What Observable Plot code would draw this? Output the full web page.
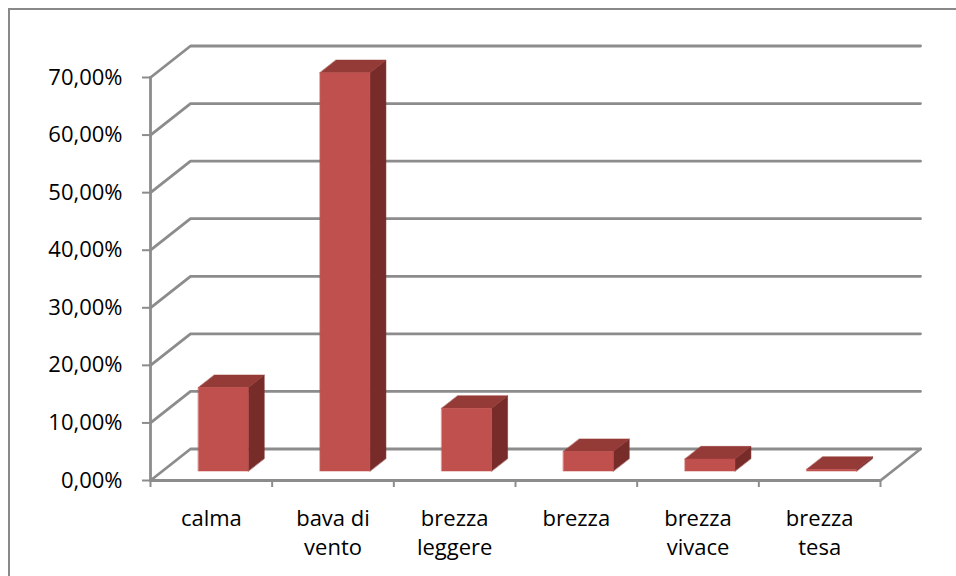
<!DOCTYPE html>
<html>
<head>
<meta charset="utf-8">
<script src="https://cdn.jsdelivr.net/npm/d3@7"></script>
<script src="https://cdn.jsdelivr.net/npm/@observablehq/plot@0.6"></script>
<style>
  html, body { margin: 0; padding: 0; background: #fff; overflow: hidden; }
  #wrap { position: relative; width: 956px; height: 576px; }
  #wrap svg { position: absolute; left: 0; top: 0; }
  #border { position: absolute; left: 8px; top: 8px; width: 970px; height: 590px; border: 2px solid #898989; pointer-events: none; }
  svg text { fill: #000; font-weight: 400; }
</style>
</head>
<body>
<div id="wrap"><div id="border"></div></div>
<script>
const categories = ["calma", "bava di\nvento", "brezza\nleggere", "brezza", "brezza\nvivace", "brezza\ntesa"];
const values = [14.5, 69.2, 10.9, 3.4, 2.1, 0.3];
const yTicks = [0, 10, 20, 30, 40, 50, 60, 70];

const n = categories.length;
const Dx = 40 / (730 / n);      // depth offset in x units
const Dy = 31.5 / (403 / 70);   // depth offset in y units
const f0 = 0.3, f1 = 0.7, w = 0.41;
const grid = "#8c8c8c";

// back wall + left wall gridlines
const wallPts = [];
yTicks.forEach(v => {
  wallPts.push({x: 0, y: v, z: v}, {x: Dx, y: v + Dy, z: v}, {x: n + Dx, y: v + Dy, z: v});
});
const floorPts = [{x: 0, y: 0}, {x: n, y: 0}, {x: n + Dx, y: Dy}];
const axisPts = [{x: 0, y: 0}, {x: 0, y: 70}];

const frontFaces = [], topFaces = [], sideFaces = [];
values.forEach((v, i) => {
  const x0 = i + 0.5 - w / 2 + f0 * Dx, x1 = x0 + w;
  const y0 = f0 * Dy, y1 = v + f0 * Dy;
  const ox = (f1 - f0) * Dx, oy = (f1 - f0) * Dy;
  frontFaces.push({x: x0, y: y0, z: i}, {x: x1, y: y0, z: i}, {x: x1, y: y1, z: i}, {x: x0, y: y1, z: i});
  topFaces.push({x: x0, y: y1, z: i}, {x: x1, y: y1, z: i}, {x: x1 + ox, y: y1 + oy, z: i}, {x: x0 + ox, y: y1 + oy, z: i});
  sideFaces.push({x: x1, y: y0, z: i}, {x: x1, y: y1, z: i}, {x: x1 + ox, y: y1 + oy, z: i}, {x: x1 + ox, y: y0 + oy, z: i});
});

const font = "'Open Sans', sans-serif";
const chart = Plot.plot({
  width: 956,
  height: 576,
  marginLeft: 150,
  marginRight: 76,
  marginTop: 77,
  marginBottom: 96,
  style: {fontFamily: font, background: "transparent", overflow: "visible"},
  x: {type: "linear", domain: [0, n]},
  y: {type: "linear", domain: [0, 70]},
  marks: [
    Plot.line(wallPts, {x: "x", y: "y", z: "z", stroke: grid, strokeWidth: 2.8}),
    Plot.line(floorPts, {x: "x", y: "y", stroke: grid, strokeWidth: 2.8}),
    Plot.line(sideFaces, {x: "x", y: "y", z: "z", fill: "#772c2a", stroke: "#772c2a", strokeWidth: 0.5, curve: "linear-closed"}),
    Plot.line(topFaces, {x: "x", y: "y", z: "z", fill: "#943a37", stroke: "#943a37", strokeWidth: 0.5, curve: "linear-closed"}),
    Plot.line(frontFaces, {x: "x", y: "y", z: "z", fill: "#c0504d", stroke: "#c0504d", strokeWidth: 0.5, curve: "linear-closed"}),
    Plot.line(axisPts, {x: "x", y: "y", stroke: grid, strokeWidth: 2.8}),
    Plot.axisY({ticks: yTicks, tickSize: 8, tickPadding: 20, stroke: grid, strokeWidth: 2,
      tickFormat: d => d.toFixed(2).replace(".", ",") + "%", fontSize: 22, fontFamily: font, label: null}),
    Plot.axisX({ticks: d3.range(n + 1), tickSize: 7, stroke: grid, strokeWidth: 2, tickFormat: () => "", label: null}),
    Plot.axisX({ticks: d3.range(n).map(i => i + 0.5), tickSize: 0, tickPadding: 24,
      tickFormat: d => categories[Math.floor(d)], fontSize: 22, fontFamily: font, lineHeight: 1.35, label: null})
  ]
});
document.getElementById("wrap").prepend(chart);
</script>
</body>
</html>
